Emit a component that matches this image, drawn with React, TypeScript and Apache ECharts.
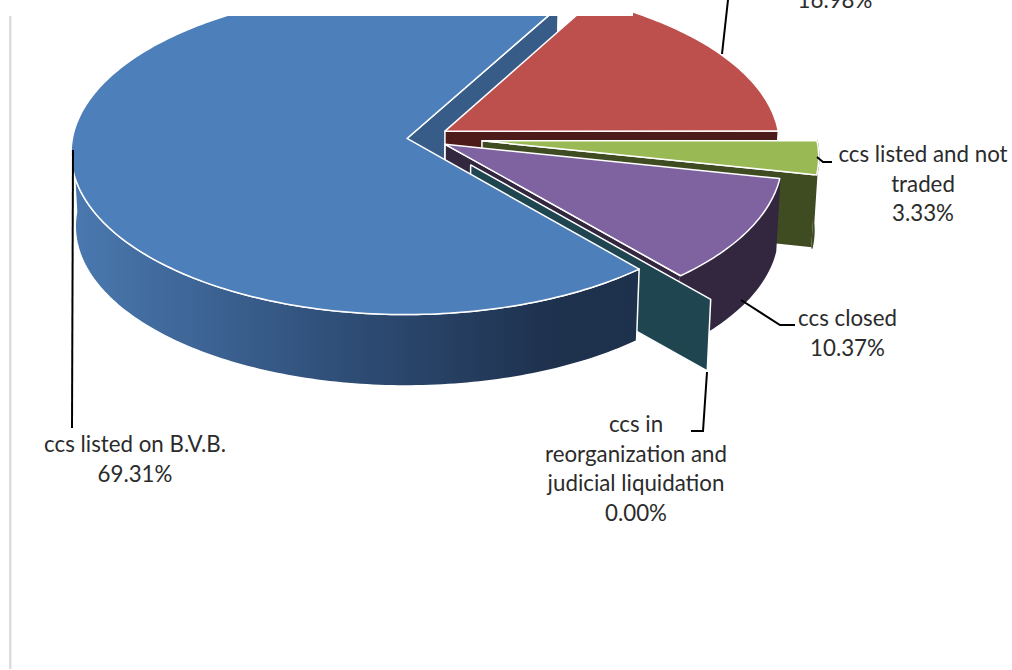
import React, { useEffect, useRef } from "react";
import * as echarts from "echarts";

const categories = [
  "ccs listed and not traded",
  "ccs closed",
  "ccs in reorganization and judicial liquidation",
  "ccs listed on B.V.B.",
  "",
];
const values = [3.33, 10.37, 0.0, 69.31, 16.98];
const labelLines = [
  ["ccs listed and not", "traded"],
  ["ccs closed"],
  ["ccs in", "reorganization and", "judicial liquidation"],
  ["ccs listed on B.V.B."],
  [],
];

// Styles and layout per slice (same order as the data)
const topColors = ["#99B955", "#7F62A0", "#4BACC6", "#4D7FBB", "#BD4F4C"];
const wallColors = ["#3F4B21", "#33273F", "#1F4650", "#375C88", "#4D1C1A"];
const explode = [0.18, 0.08, 0.22, 0.045, 0.08];
const layers = [4, 6, 8, 9, 2];
const labelAnchors = [
  [923, 139],
  [847.5, 303],
  [636, 409],
  [135, 429],
  [835, -15],
];
const leaders = [
  [[817, 157], [823, 162], [832, 162]],
  [[741, 300], [780, 325], [795, 325]],
  [[707, 372], [703, 431], [691, 431]],
  [[73, 150], [72, 428]],
  [[728, 0], [722, 54]],
];

// Projection of the pie's disc
const CX = 422;
const CY = 137.7;
const RX = 334.5;
const RY = 161;
const K = 0.085;
const DEPTH = 73.5;
const BOTTOM_SCALE = 0.988;
const FONT = "Lato, 'Open Sans', sans-serif";
const TEXT = "#2b2b2b";

const rad = (d: number) => (d * Math.PI) / 180;

function project(u: number, v: number, bottom: boolean): number[] {
  const w = 1 - K * v;
  const s = bottom ? BOTTOM_SCALE : 1;
  return [CX + (s * RX * u) / w, CY + (s * RY * v) / w + (bottom ? DEPTH : 0)];
}

function sliceAngles() {
  const out: number[][] = [];
  let a = 0;
  values.forEach((val) => {
    const b = a + (val / 100) * 360;
    out.push([a, b]);
    a = b;
  });
  return out;
}

function renderSlice(params: any, api: any) {
  const i = params.dataIndex;
  const [a, b] = sliceAngles()[i];
  const bis = (a + b) / 2;
  const e = explode[i];
  const ox = e * Math.cos(rad(bis));
  const oy = e * Math.sin(rad(bis));
  const pt = (th: number, r: number, bottom = false) =>
    project(ox + r * Math.cos(rad(th)), oy + r * Math.sin(rad(th)), bottom);
  const arc = (from: number, to: number, bottom = false) => {
    const n = Math.max(1, Math.ceil(Math.abs(to - from)));
    const pts: number[][] = [];
    for (let j = 0; j <= n; j++) pts.push(pt(from + ((to - from) * j) / n, 1, bottom));
    return pts;
  };
  const layer = layers[i];
  const stroke = { stroke: "#ffffff", lineWidth: 1.5, lineJoin: "round" };
  const children: any[] = [];
  const wall = (th: number) => ({
    type: "polygon",
    z2: i === 3 ? 1 : layer,
    shape: { points: [pt(th, 0), pt(th, 1), pt(th, 1, true), pt(th, 0, true)] },
    style: { fill: wallColors[i], ...stroke },
  });
  if (Math.cos(rad(b)) > 0) children.push(wall(b));
  if (-Math.cos(rad(a)) > 0) children.push(wall(a));
  const rimFrom = Math.max(a, 0);
  const rimTo = Math.min(b, 180);
  if (rimTo > rimFrom) {
    const isMain = i === 3;
    const fill = isMain
      ? new echarts.graphic.LinearGradient(0, 0, 1, 0, [
          { offset: 0, color: "#4A79B0" },
          { offset: 0.45, color: "#30507A" },
          { offset: 0.85, color: "#1E314D" },
          { offset: 1, color: "#1E314C" },
        ])
      : wallColors[i];
    children.push({
      type: "polygon",
      z2: layer,
      shape: { points: [...arc(rimFrom, rimTo), ...arc(rimTo, rimFrom, true)] },
      style: { fill, ...stroke, stroke: isMain ? "#ffffff" : wallColors[i] },
    });
  }
  if (b > a) {
    children.push({
      type: "polygon",
      z2: layer + 1,
      shape: { points: [pt(a, 0), ...arc(a, b)] },
      style: { fill: topColors[i], ...stroke },
    });
  }
  return { type: "group", children };
}

export default function App() {
  const ref = useRef<HTMLDivElement>(null);
  useEffect(() => {
    document.body.style.margin = "0";
    const chart = echarts.init(ref.current!, null, { renderer: "svg" });
    const labelGraphics = categories.map((_, i) => ({
      type: "text",
      z: 30,
      x: labelAnchors[i][0],
      y: labelAnchors[i][1],
      style: {
        text: [...labelLines[i], values[i].toFixed(2) + "%"].join("\n"),
        font: `22.3px ${FONT}`,
        lineHeight: 29.5,
        fill: TEXT,
        align: "center",
        verticalAlign: "top",
      },
    }));
    const leaderGraphics = leaders.map((pts) => ({
      type: "polyline",
      z: 25,
      shape: { points: pts },
      style: { stroke: "#000000", lineWidth: 2, fill: "none" },
    }));
    chart.setOption({
      animation: false,
      backgroundColor: "#ffffff",
      graphic: [
        { type: "rect", z: 20, shape: { x: 0, y: 0, width: 633, height: 16 }, style: { fill: "#ffffff" } },
        { type: "rect", z: 21, shape: { x: 9, y: 16, width: 2.5, height: 653 }, style: { fill: "#dcdcdc" } },
        ...leaderGraphics,
        ...labelGraphics,
      ],
      series: [
        {
          type: "custom",
          coordinateSystem: "none",
          silent: true,
          clip: false,
          renderItem: renderSlice,
          data: values.map((v, i) => ({ name: categories[i], value: v })),
        },
      ],
    });
    return () => chart.dispose();
  }, []);
  return <div ref={ref} style={{ position: "absolute", left: 0, top: 0, width: 1012, height: 670 }} />;
}
